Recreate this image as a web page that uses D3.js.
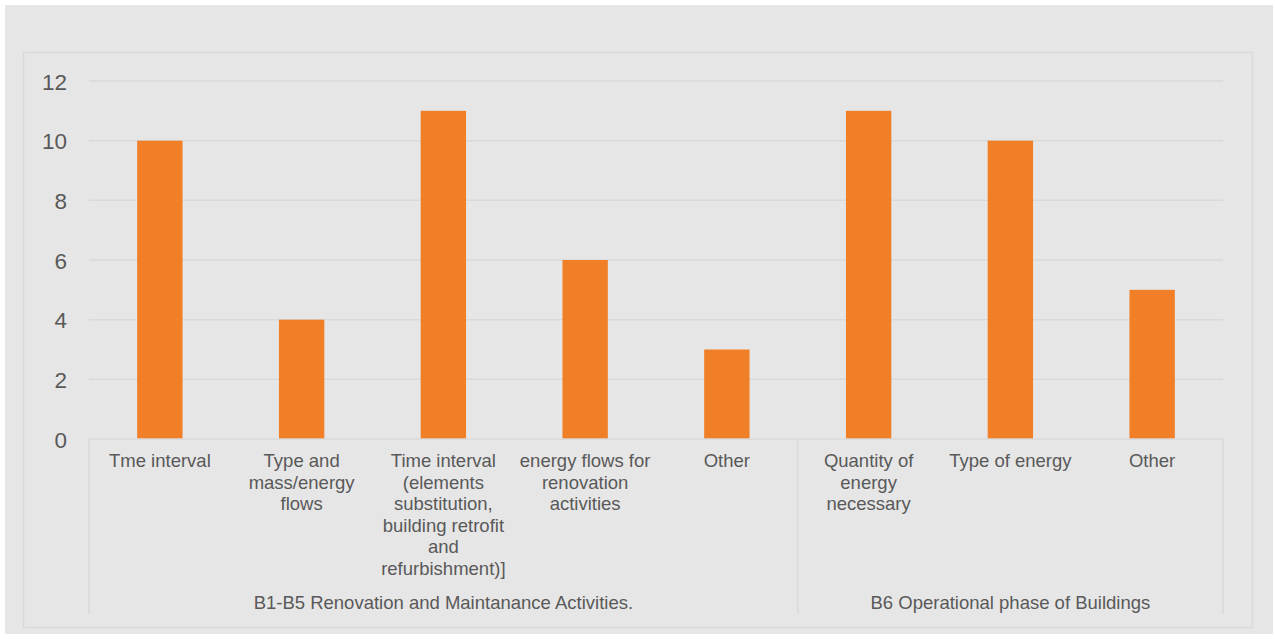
<!DOCTYPE html>
<html>
<head>
<meta charset="utf-8">
<script src="https://cdn.jsdelivr.net/npm/d3@7"></script>
<style>
  html, body { margin: 0; padding: 0; background: #ffffff; }
  svg { display: block; font-family: "Liberation Sans", Arial, sans-serif; }
</style>
</head>
<body>
<svg id="chart" width="1275" height="639"></svg>
<script>
// Category labels (pre-wrapped lines), their values and group headings
const categories = [
  ["Tme interval"],
  ["Type and", "mass/energy", "flows"],
  ["Time interval", "(elements", "substitution,", "building retrofit", "and", "refurbishment)]"],
  ["energy flows for", "renovation", "activities"],
  ["Other"],
  ["Quantity of", "energy", "necessary"],
  ["Type of energy"],
  ["Other"]
];
const values = [10, 4, 11, 6, 3, 11, 10, 5];
const groupNames = ["B1-B5 Renovation and Maintanance Activities.", "B6 Operational phase of Buildings"];
const groupSizes = [5, 3];
const yTicks = [0, 2, 4, 6, 8, 10, 12];

const svg = d3.select("#chart");
const textColor = "#595959";
const gridColor = "#d9d9d9";

// Chart area background and frame
svg.append("rect").attr("x", 5).attr("y", 5).attr("width", 1268).attr("height", 629).attr("fill", "#e6e6e6");
svg.append("rect").attr("x", 23.5).attr("y", 52.5).attr("width", 1229).attr("height", 575)
  .attr("fill", "none").attr("stroke", "#d9d9d9").attr("stroke-width", 1.5);

const plotLeft = 89, plotRight = 1223, plotTop = 81, plotBottom = 439;
const x = d3.scaleBand().domain(d3.range(categories.length)).range([plotLeft, plotRight]).paddingInner(0.68).paddingOuter(0.34);
const xBand = d3.scaleBand().domain(d3.range(categories.length)).range([plotLeft, plotRight]).padding(0);
const y = d3.scaleLinear().domain([0, 12]).range([plotBottom, plotTop]);

// Horizontal gridlines
svg.append("g").selectAll("line").data(yTicks.filter(t => t > 0)).join("line")
  .attr("x1", plotLeft).attr("x2", plotRight)
  .attr("y1", d => y(d)).attr("y2", d => y(d))
  .attr("stroke", gridColor).attr("stroke-width", 1.5);

// Y axis labels
const yAxis = d3.axisLeft(y).tickValues(yTicks).tickSize(0).tickPadding(0);
const ya = svg.append("g").attr("transform", "translate(67,0)").call(yAxis);
ya.select(".domain").remove();
ya.selectAll("text").attr("fill", textColor).attr("font-size", 22.5)
  .attr("font-family", "Liberation Sans, Arial, sans-serif").attr("dy", "0.36em");

// Bars
svg.append("g").selectAll("rect").data(values).join("rect")
  .attr("x", (d, i) => x(i)).attr("width", x.bandwidth())
  .attr("y", d => y(d)).attr("height", d => y(0) - y(d))
  .attr("fill", "#f07f27");

// Baseline
svg.append("line").attr("x1", plotLeft).attr("x2", plotRight).attr("y1", plotBottom).attr("y2", plotBottom)
  .attr("stroke", gridColor).attr("stroke-width", 1.5);

// Group separators (vertical lines at group boundaries)
let bounds = [0];
groupSizes.forEach(s => bounds.push(bounds[bounds.length - 1] + s));
const sepX = bounds.map(b => b < categories.length ? xBand(b) : xBand(categories.length - 1) + xBand.bandwidth());
svg.append("g").selectAll("line").data(sepX).join("line")
  .attr("x1", d => d).attr("x2", d => d).attr("y1", plotBottom).attr("y2", 614)
  .attr("stroke", gridColor).attr("stroke-width", 1.5);

// Category labels
const lineH = 21.5;
const catG = svg.append("g").attr("fill", textColor).attr("font-size", 18.5).attr("text-anchor", "middle");
categories.forEach((lines, i) => {
  const cx = xBand(i) + xBand.bandwidth() / 2;
  const t = catG.append("text").attr("x", cx).attr("y", 467);
  lines.forEach((ln, j) => {
    t.append("tspan").attr("x", cx).attr("y", 467 + j * lineH).text(ln);
  });
});

// Group labels
svg.append("g").selectAll("text").data(groupNames).join("text")
  .attr("x", (d, i) => (sepX[i] + sepX[i + 1]) / 2).attr("y", 609)
  .attr("text-anchor", "middle").attr("fill", textColor).attr("font-size", 18.5)
  .text(d => d);
</script>
</body>
</html>
